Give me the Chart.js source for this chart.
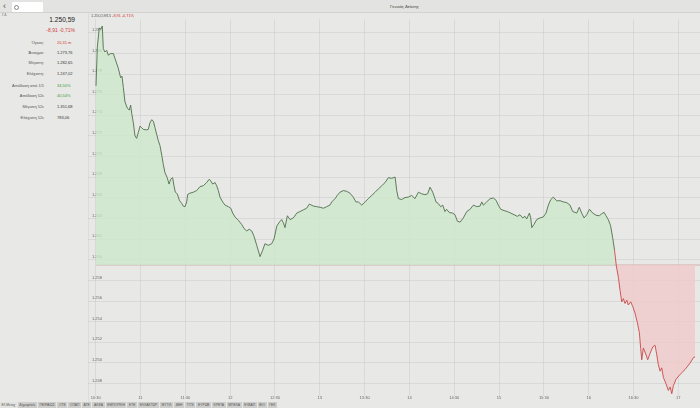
<!DOCTYPE html>
<html><head><meta charset="utf-8">
<script src="https://cdn.jsdelivr.net/npm/chart.js@4"></script>
<style>
html,body{margin:0;padding:0;}
body{width:700px;height:408px;overflow:hidden;background:#e8e8e6;font-family:"Liberation Sans",Arial,sans-serif;position:relative;color:#333;}
#top{position:absolute;left:0;top:0;width:700px;height:12px;background:#e3e3e1;border-bottom:1px solid #d2d2d0;}
#back{position:absolute;left:3px;top:1px;font-size:9px;line-height:10px;color:#555;}
#search{position:absolute;left:12px;top:2px;width:31px;height:10px;background:#fff;border-radius:1px;}
#search span{position:absolute;left:2px;top:3px;width:3px;height:3px;border:0.6px solid #888;border-radius:50%;}
#title{position:absolute;left:390px;top:4px;font-size:4.3px;color:#444;}
#gd{position:absolute;left:2px;top:13px;font-size:3px;color:#666;}
#left{position:absolute;left:0;top:13px;width:88px;height:389px;border-right:1px solid #dcdcda;}
#price{position:absolute;right:13px;top:3px;font-size:6.6px;color:#222;}
#chg{position:absolute;right:13px;top:13.5px;font-size:5px;color:#d04040;}
.row{position:absolute;left:0;width:88px;font-size:4px;line-height:5px;}
.row .l{position:absolute;right:44px;color:#555;white-space:nowrap;}
.row .v{position:absolute;left:57px;color:#333;white-space:nowrap;}
.red{color:#d04040 !important;}
.grn{color:#3a9a3a !important;}
#wrap{position:absolute;left:88px;top:13px;width:612px;height:389px;}
#hdr{position:absolute;left:91px;top:13.5px;font-size:3.8px;color:#555;}
#hdr b{font-weight:normal;color:#d04040;}
#tabs{position:absolute;left:0;top:402px;height:6px;display:flex;background:#d0d0ce;}
#tabs div{font-size:3.3px;line-height:6px;padding:0 1.6px;color:#555;border-right:0.8px solid #e6e6e4;white-space:nowrap;background:#cdcdcb;}
#tabs div:first-child{background:#e2e2e0;}
</style></head>
<body>
<div id="top"><div id="back">&#8249;</div><div id="search"><span></span></div><div id="title">Γενικός Δείκτης</div></div>
<div id="gd">Γ.Δ.</div>
<div id="left">
  <div id="price">1.250,59</div>
  <div id="chg">-8,91 -0,71%</div>
</div>
<div id="wrap"><canvas id="c"></canvas></div>
<div id="hdr">1.250,59/15 <b>-8,91 -0,71%</b></div>
<div id="tabs"></div>
<script>
// ---- data ----
const statLabels = ["Όγκος:", "Άνοιγμα:", "Μέγιστη:", "Ελάχιστη:", "Απόδοση από 1/1", "Απόδοση 52ε", "Μέγιστη 52ε", "Ελάχιστη 52ε"];
const statValues = ["20,31 m", "1.273,76", "1.282,65", "1.247,02", "34,50%", "40,54%", "1.351,68", "783,06"];
const tabLabels = ["Εξ.Μετοχ", "Δημοφιλείς", "ΠΕΙΡΑΙΩΣ", "ΟΤΕ", "ΟΠΑΠ", "ΑΤΕ", "ΑΛΦΑ", "ΕΜΠΟΡΙΚΗ", "ΕΤΕ", "ΕΛΛΑΚΤΩΡ", "ΜΥΤΙΛ", "ΔΕΗ", "ΤΙΤΚ", "ΕΥΡΩΒ", "ΚΡΕΤΑ", "ΜΠΕΛΑ", "ΕΥΔΑΠ", "ΒΙΟ", "ΓΕΚ"];
const previousClose = 1259.50;
// minutes since midnight
const times = [630.2,631.1,632.4,633.3,634.4,635.1,636.2,637.4,638.4,640.0,641.8,642.9,645.1,646.7,647.6,648.5,649.6,651.2,652.5,653.4,654.1,655.2,656.3,657.4,658.5,659.7,660.8,661.9,664.1,665.2,666.3,667.5,668.6,669.7,670.8,671.9,673.0,674.2,675.3,676.4,677.9,679.1,680.2,681.5,682.4,683.3,684.6,686.0,687.6,688.6,689.8,690.9,691.6,693.1,695.3,697.6,699.8,702.0,704.3,706.0,707.0,708.3,709.9,711.0,712.1,713.2,715.0,716.6,718.8,720.4,721.7,723.3,725.5,727.7,729.3,731.1,732.8,734.4,736.0,737.8,740.0,741.8,743.3,745.5,747.8,749.4,751.2,753.4,754.5,755.6,756.7,758.3,760.1,762.3,764.6,766.8,769.0,771.2,773.0,775.7,777.9,780.2,782.4,784.6,786.8,788.0,790.2,791.7,793.5,795.7,798.0,800.2,802.4,804.2,805.8,808.1,810.3,812.5,814.8,817.0,819.2,821.5,823.7,825.9,828.1,830.4,831.5,832.6,834.8,837.0,839.3,841.5,843.7,846.0,848.2,850.4,852.2,853.8,855.6,857.1,857.8,859.3,860.9,862.3,863.8,864.9,866.7,868.9,870.5,872.1,873.9,876.1,878.4,880.6,882.8,885.1,887.3,888.4,889.5,891.7,894.0,896.2,898.0,899.5,901.1,903.3,905.5,907.8,910.0,912.2,914.0,915.8,917.4,918.5,920.3,921.2,921.9,923.4,925.2,927.4,929.6,931.4,933.0,934.6,936.3,938.6,940.8,943.0,945.3,947.5,949.3,952.0,953.7,955.3,956.9,958.7,960.5,962.7,964.9,967.1,968.7,970.3,971.6,973.1,974.6,976.0,977.3,978.5,979.9,981.0,982.1,983.2,984.3,985.5,986.5,988.1,989.5,991.0,992.6,993.9,994.8,995.5,996.6,998.4,999.5,1001.1,1002.9,1004.4,1005.6,1006.6,1007.8,1008.9,1010.0,1011.8,1013.3,1014.5,1015.6,1016.7,1018.5,1021.2,1024.5,1027.9,1030.1,1031.2];
const values = [1276.86,1280.61,1282.48,1282.33,1282.65,1280.46,1280.14,1280.30,1279.83,1279.99,1279.99,1279.52,1278.58,1277.65,1277.80,1276.71,1275.30,1274.68,1274.52,1274.99,1274.21,1273.27,1272.02,1271.77,1272.33,1272.96,1272.80,1272.64,1272.59,1272.64,1273.27,1273.58,1273.43,1272.80,1272.17,1271.56,1271.09,1270.15,1269.21,1268.43,1267.96,1267.34,1267.81,1267.96,1267.18,1266.55,1266.40,1265.77,1265.46,1265.21,1265.15,1265.61,1266.34,1266.46,1266.55,1266.71,1267.09,1267.18,1267.49,1267.81,1267.65,1267.34,1267.49,1267.18,1266.71,1266.08,1265.61,1265.30,1265.15,1265.00,1264.53,1264.15,1263.83,1263.43,1263.03,1262.80,1262.96,1262.80,1262.28,1261.40,1260.31,1260.93,1261.56,1261.40,1261.56,1262.02,1263.27,1263.74,1263.90,1263.59,1263.12,1264.27,1263.90,1264.06,1264.53,1264.68,1264.84,1265.00,1265.40,1265.21,1265.15,1265.09,1265.00,1265.15,1265.30,1265.61,1265.93,1266.24,1266.55,1266.71,1266.64,1266.46,1266.08,1265.61,1265.61,1265.30,1265.61,1265.93,1266.24,1266.55,1266.87,1267.18,1267.49,1267.96,1267.90,1268.02,1266.71,1265.93,1265.84,1266.03,1266.08,1266.24,1265.93,1266.55,1266.40,1266.31,1266.40,1267.04,1266.55,1265.93,1265.61,1265.46,1265.15,1265.30,1264.68,1264.90,1264.58,1264.53,1264.37,1263.74,1263.65,1264.06,1264.68,1264.90,1265.30,1265.15,1265.21,1265.61,1265.30,1265.61,1265.93,1265.99,1265.77,1265.30,1264.90,1264.77,1264.68,1264.53,1264.37,1264.21,1264.37,1264.06,1264.21,1263.96,1264.53,1264.06,1263.12,1263.43,1263.90,1264.06,1264.15,1264.53,1265.30,1265.84,1266.08,1265.71,1265.73,1265.61,1265.54,1265.30,1264.68,1264.53,1265.09,1264.53,1264.06,1264.37,1264.90,1264.53,1264.32,1264.27,1264.46,1264.60,1264.27,1263.90,1263.34,1262.18,1260.93,1259.40,1258.28,1257.03,1255.93,1256.24,1255.77,1256.09,1255.62,1255.93,1255.46,1254.84,1253.90,1252.96,1251.41,1250.31,1251.46,1250.78,1250.31,1250.94,1251.56,1251.72,1250.78,1249.84,1249.21,1249.53,1248.59,1247.97,1247.34,1247.66,1247.02,1247.81,1248.43,1248.90,1249.37,1250.00,1250.53,1250.59];

// ---- side panel ----
const rowTops = [26.5, 37, 47, 57.5, 69.5, 80, 91, 102];
const left = document.getElementById('left');
statLabels.forEach((lab, i) => {
  const r = document.createElement('div');
  r.className = 'row';
  r.style.top = rowTops[i] + 'px';
  const cls = i === 0 ? 'red' : (i === 4 || i === 5 ? 'grn' : '');
  r.innerHTML = '<span class="l">' + lab + '</span><span class="v ' + cls + '">' + statValues[i] + '</span>';
  left.appendChild(r);
});
const tabs = document.getElementById('tabs');
tabLabels.forEach(t => { const d = document.createElement('div'); d.textContent = t; tabs.appendChild(d); });

// ---- chart ----
const GREEN_LINE = '#4f6e4c', RED_LINE = '#c94848';
const fmtY = v => { const s = String(Math.round(v)); return s.length > 3 ? s.slice(0, s.length - 3) + '.' + s.slice(-3) : s; };
const fmtX = m => { const h = Math.floor(m / 60), mm = Math.round(m % 60); return mm ? h + ':' + String(mm).padStart(2, '0') : String(h); };
const pts = times.map((t, i) => ({x: t, y: values[i]}));

new Chart(document.getElementById('c'), {
  type: 'line',
  data: {
    datasets: [{
      data: pts,
      borderWidth: 0.9,
      borderColor: GREEN_LINE,
      pointRadius: 0,
      tension: 0,
      fill: {target: {value: previousClose}, above: 'rgba(204,232,200,0.75)', below: 'rgba(242,200,200,0.75)'},
      segment: {borderColor: c => (c.p0.parsed.y < previousClose || c.p1.parsed.y < previousClose) ? RED_LINE : GREEN_LINE}
    }, {
      data: [{x: times[0], y: previousClose}, {x: 1034.5, y: previousClose}],
      borderWidth: 0.8,
      borderColor: '#c9a2a2',
      pointRadius: 0,
      fill: false
    }]
  },
  options: {
    responsive: true,
    maintainAspectRatio: false,
    animation: false,
    events: [],
    layout: {padding: 0},
    plugins: {legend: {display: false}, tooltip: {enabled: false}},
    scales: {
      x: {
        type: 'linear', min: 624.85, max: 1034.5, z: 1,
        afterFit: s => { s.height = 0; },
        border: {display: false},
        grid: {color: 'rgba(190,190,188,0.45)', lineWidth: 0.8, drawTicks: false},
        ticks: {stepSize: 30, includeBounds: false, mirror: true, padding: -5, color: '#666', font: {size: 4, family: 'Liberation Sans'}, maxRotation: 0, autoSkip: false, callback: v => fmtX(v)}
      },
      y: {
        type: 'linear', min: 1246.84, max: 1283.30, z: 1,
        afterFit: s => { s.width = 0; },
        border: {display: false},
        grid: {color: 'rgba(190,190,188,0.45)', lineWidth: 0.8, drawTicks: false},
        ticks: {stepSize: 2, includeBounds: false, mirror: true, padding: 4, labelOffset: -3, color: '#666', font: {size: 4, family: 'Liberation Sans'}, callback: v => fmtY(v)}
      }
    }
  }
});
</script>
</body></html>
